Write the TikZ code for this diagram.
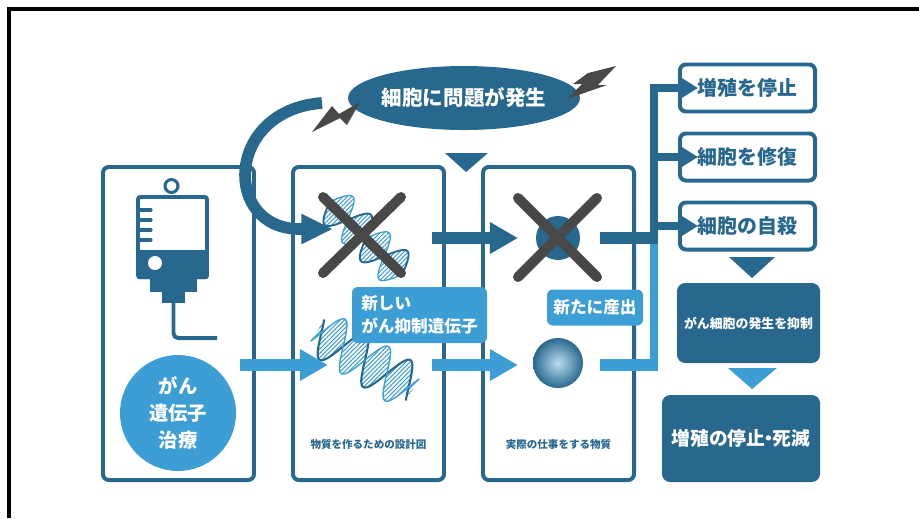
\documentclass[tikz,border=0pt]{standalone}
\usepackage{fontspec}
\setmainfont{Noto Sans CJK JP}
\usetikzlibrary{arrows.meta,shapes.geometric,patterns.meta}

\definecolor{darkblue}{RGB}{40,104,142}
\definecolor{lightblue}{RGB}{61,158,214}
\definecolor{xgray}{RGB}{72,72,72}

\tikzset{
  panel/.style={draw=darkblue, line width=3.4pt, rounded corners=5pt, minimum width=4.53cm, minimum height=9.39cm, inner sep=0pt},
  result/.style={draw=darkblue, line width=3.4pt, rounded corners=5pt, fill=white, text=darkblue,
    font=\bfseries\fontsize{17}{20}\selectfont, minimum width=4.05cm, minimum height=1.41cm, inner sep=0pt},
  filled/.style={fill=darkblue, rounded corners=7pt, text=white, inner sep=0pt},
  tag/.style={fill=lightblue, rounded corners=5pt, text=white, inner sep=0pt,
    font=\bfseries\fontsize{14.2}{19.8}\selectfont},
  caption/.style={text=darkblue, font=\bfseries\fontsize{9}{11}\selectfont},
  bar/.style={line width=11pt, -{Triangle[length=24pt, width=25.5pt]}},
  branch/.style={draw=darkblue, line width=6.5pt, -{Triangle[length=14.5pt, width=17pt]}},
  cross/.style={draw=xgray, line width=8.5pt, line cap=round},
  strand/.style={pattern={Lines[angle=45, distance=2.6pt, line width=0.9pt]}, pattern color=lightblue},
}

\begin{document}
\begin{tikzpicture}[x=0.03cm, y=-0.03cm]
  \useasboundingbox (0,0) rectangle (919,518);
  % cornice
  \draw[black, line width=2.6pt] (9,518) -- (9,9) -- (919,9);

  % i tre pannelli
  \node[panel] (bagbox) at (178.5,323.5) {};
  \node[panel] (genebox) at (368.5,323.5) {};
  \node[panel] (protbox) at (558.5,323.5) {};

  % flebo
  \draw[darkblue, line width=2.6pt] (171.5,186) circle (6.5);
  \draw[darkblue, line width=3.4pt, fill=white, rounded corners=2pt] (138,197) rectangle (207,277);
  \fill[darkblue, rounded corners=2pt] (136.5,250) rectangle (208.5,279);
  \fill[darkblue] (150,277) rectangle (197,292);
  \fill[darkblue] (162,291) rectangle (185,303);
  \foreach \y in {210,220,230,240} {
    \draw[darkblue, line width=2.6pt, line cap=round] (138,\y) -- (151,\y);
  }
  \fill[white] (155,263) circle (7);
  \draw[darkblue, line width=3.4pt, rounded corners=4pt] (173.5,303) -- (173.5,338) -- (217,338);

  \node[circle, fill=lightblue, minimum size=3.48cm, inner sep=0pt, text=white, align=center,
    font=\bfseries\fontsize{16.5}{23}\selectfont] (therapy) at (178,413) {がん\\遺伝子\\治療};

  % elica vecchia (sopra)
  \begin{scope}[shift={(366,238)}, rotate=-45]
    \fill[strand] plot[domain=-52:52, samples=61] (\x, {20*sin(7*\x)})
      -- plot[domain=52:-52, samples=61] (\x, {-20*sin(7*\x)}) -- cycle;
    \draw[darkblue, line width=1.6pt] plot[domain=-52:52, samples=61] (\x, {20*sin(7*\x)});
    \draw[lightblue, line width=1.1pt] plot[domain=-52:52, samples=61] (\x, {-20*sin(7*\x)});
  \end{scope}
  % elica nuova (sotto)
  \begin{scope}[shift={(365,360)}, rotate=-32]
    \fill[strand] plot[domain=-56:56, samples=71] (\x, {24*sin(7*\x)})
      -- plot[domain=56:-56, samples=71] (\x, {-24*sin(7*\x)}) -- cycle;
    \draw[darkblue, line width=1.8pt] plot[domain=-56:56, samples=71] (\x, {24*sin(7*\x)});
    \draw[lightblue, line width=1.2pt] plot[domain=-56:56, samples=71] (\x, {-24*sin(7*\x)});
  \end{scope}

  % proteine
  \node[circle, fill=darkblue, minimum size=1.32cm, inner sep=0pt] (oldprot) at (558,238) {};
  \node[circle, inner color=lightblue!35!white, outer color=darkblue, minimum size=1.5cm, inner sep=0pt] (newprot) at (558,363) {};

  % croci
  \draw[cross] (323,197) -- (401,273);
  \draw[cross] (401,197) -- (323,273);
  \draw[cross] (518,198) -- (597,277);
  \draw[cross] (597,198) -- (518,277);

  % frecce chiare (nuovo gene)
  \coordinate (bagout) at (240,365);
  \coordinate (genein) at (328,365);
  \coordinate (geneout) at (432,365);
  \coordinate (protin) at (518,365);
  \coordinate (protout) at (600,365);
  \draw[bar, lightblue] (bagout) -- (genein);
  \draw[bar, lightblue] (geneout) -- (protin);
  \draw[lightblue, line width=11pt] (protout) -- (658,365);
  \draw[lightblue, line width=6pt] (654,365) -- (654,244);

  % frecce scure (gene danneggiato)
  \coordinate (oldgeneout) at (432,238);
  \coordinate (oldprotin) at (518,238);
  \coordinate (oldprotout) at (600,238);
  \draw[bar, darkblue] (oldgeneout) -- (oldprotin);
  \draw[darkblue, line width=11pt] (oldprotout) -- (658,238);

  % esiti
  \node[result] (stop) at (747.5,88) {増殖を停止};
  \node[result] (repair) at (747.5,157) {細胞を修復};
  \node[result] (suicide) at (747.5,226) {細胞の自殺};
  \coordinate (trunkbot) at (654,244);
  \coordinate (trunktop) at (654,88);
  \draw[branch, line join=miter] (trunkbot) -- (trunktop) -- ([xshift=17pt]stop.west);
  \draw[branch] (trunktop |- repair) -- ([xshift=17pt]repair.west);
  \draw[branch] (trunktop |- suicide) -- ([xshift=17pt]suicide.west);

  \fill[darkblue] (729,257) -- (775,257) -- (752,278) -- cycle;
  \node[filled, minimum width=4.29cm, minimum height=2.4cm, font=\bfseries\fontsize{11}{13}\selectfont]
    (suppress) at (748.5,323) {がん細胞の発生を抑制};
  \fill[lightblue] (728,368) -- (777,368) -- (752,389) -- cycle;
  \node[filled, minimum width=4.74cm, minimum height=2.61cm, font=\bfseries\fontsize{16}{18}\selectfont]
    (death) at (741,438.5) {増殖の停止\kern-0.3em・\kern-0.3em 死滅};

  % problema nella cellula
  \node[ellipse, fill=darkblue, minimum width=5.94cm, minimum height=1.92cm, inner sep=0pt, text=white,
    font=\bfseries\fontsize{17.5}{20}\selectfont] (problem) at (464,98) {細胞に問題が発生};
  \fill[darkblue] (445,153) -- (488,153) -- (466,172) -- cycle;
  % fulmini
  \fill[xgray] (312,132) -- (332,106) -- (339,114) -- (360,102) -- (347,125) -- (340,118) -- cycle;
  \fill[xgray] (588,73) -- (616,66) -- (598,85) -- (607,85) -- (567,99) -- (582,84) -- (573,84) -- cycle;

  % freccia curva verso il gene
  \coordinate (curvestart) at (322,103);
  \coordinate (curveend) at (333,229);
  \draw[darkblue, line width=10pt, -{Triangle[length=27pt, width=24pt]}]
    (curvestart) .. controls (225,110) and (222,229) .. (300,229) -- (curveend);

  % etichette
  \node[tag, minimum width=4.05cm, minimum height=1.68cm, align=left] (newgene) at (419.5,315) {新しい\\がん抑制遺伝子};
  \node[tag, minimum width=2.88cm, minimum height=1.08cm] (produced) at (595,307.5) {新たに産出};
  \node[caption] (genecap) at (368.5,445) {物質を作るための設計図};
  \node[caption] (protcap) at (558.5,445) {実際の仕事をする物質};
\end{tikzpicture}
\end{document}
